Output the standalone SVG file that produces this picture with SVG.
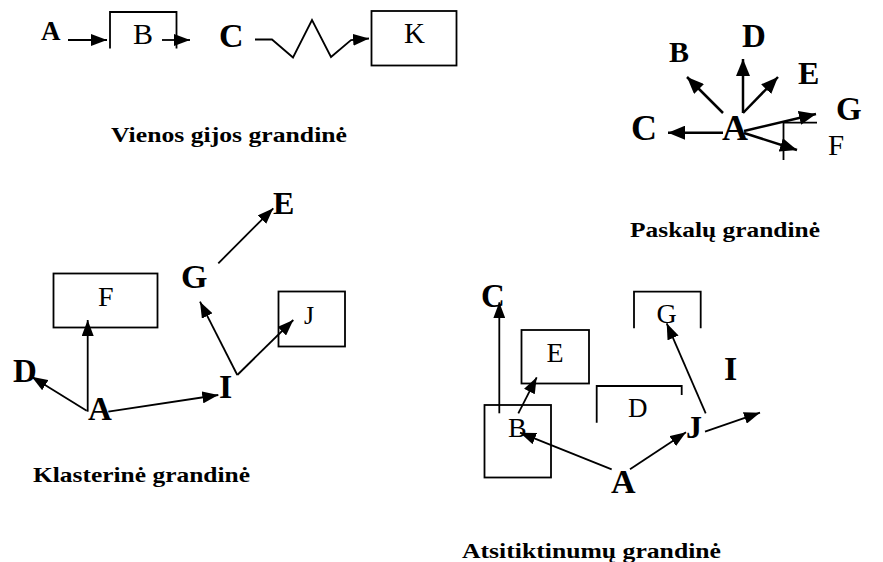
<svg xmlns="http://www.w3.org/2000/svg" width="883" height="562" viewBox="0 0 883 562">
  <defs>
    <marker id="arrow" markerUnits="userSpaceOnUse" markerWidth="16" markerHeight="12" refX="16" refY="6" orient="auto">
      <path d="M0,0 L16,6 L0,12 z" fill="#000"/>
    </marker>
    <marker id="arrow-lg" markerUnits="userSpaceOnUse" markerWidth="17" markerHeight="14" refX="17" refY="7" orient="auto">
      <path d="M0,0 L17,7 L0,14 z" fill="#000"/>
    </marker>
  </defs>
  <style>
    .bg { fill: #fff; }
    text { font-family: "Liberation Serif", "Times New Roman", serif; fill: #000; }
    .b { font-weight: bold; }
    .cap { font-weight: bold; font-size: 21px; }
    .box { fill: none; stroke: #000; stroke-width: 1.8; }
    .edge { fill: none; stroke: #000; stroke-width: 1.8; marker-end: url(#arrow); }
    .edge-lg { fill: none; stroke: #000; stroke-width: 2.5; marker-end: url(#arrow-lg); }
  </style>
  <rect class="bg" x="0" y="0" width="883" height="562"/>

  <!-- Single-thread chain -->
  <g id="chain1">
    <g id="c1-A"><text class="b" x="41" y="39.5" font-size="27">A</text></g>
    <g id="c1-B">
      <path class="box" d="M110,48.5 V12 H176.5 V48.5"/>
      <text x="133" y="43.5" font-size="30">B</text>
    </g>
    <g id="c1-C"><text class="b" x="219" y="46.5" font-size="34">C</text></g>
    <g id="c1-K">
      <rect class="box" x="371.5" y="11" width="85" height="54.5" stroke-width="2.2"/>
      <text x="404" y="42.5" font-size="29">K</text>
    </g>
    <g id="c1-edges">
      <line class="edge" x1="68" y1="40" x2="107" y2="40"/>
      <line class="edge" x1="162" y1="40" x2="190" y2="40"/>
      <path class="edge" d="M255,39.5 H272 L293,57.5 L312,20 L331,57 L351,40 L369,38.5"/>
    </g>
    <text class="cap" x="111" y="141.5" textLength="236" lengthAdjust="spacingAndGlyphs">Vienos gijos grandinė</text>
  </g>

  <!-- Fan chain -->
  <g id="chain2">
    <g id="c2-A"><text class="b" x="722" y="140" font-size="36">A</text></g>
    <g id="c2-C"><text class="b" x="631" y="140" font-size="36">C</text></g>
    <g id="c2-B"><text class="b" x="669" y="62" font-size="30">B</text></g>
    <g id="c2-D"><text class="b" x="742" y="47" font-size="33">D</text></g>
    <g id="c2-E"><text class="b" x="798" y="83.5" font-size="32">E</text></g>
    <g id="c2-G"><text class="b" x="836" y="120" font-size="33">G</text></g>
    <g id="c2-F">
      <path class="box" d="M783.5,160 V122.7 H817" stroke-width="2.2"/>
      <text x="828" y="155" font-size="29">F</text>
    </g>
    <g id="c2-edges">
      <line class="edge-lg" x1="723" y1="132.7" x2="668" y2="132.7"/>
      <line class="edge-lg" x1="723" y1="113" x2="687" y2="77"/>
      <line class="edge-lg" x1="743" y1="113" x2="743" y2="59"/>
      <line class="edge-lg" x1="743" y1="113" x2="778" y2="77"/>
      <line class="edge-lg" x1="744" y1="131" x2="816" y2="114"/>
      <line class="edge-lg" x1="744" y1="133" x2="797" y2="150"/>
    </g>
    <text class="cap" x="630" y="236.7" textLength="190" lengthAdjust="spacingAndGlyphs">Paskalų grandinė</text>
  </g>

  <!-- Cluster chain -->
  <g id="chain3">
    <g id="c3-F">
      <rect class="box" x="53.5" y="273.5" width="104" height="54"/>
      <text x="98" y="306" font-size="28">F</text>
    </g>
    <g id="c3-G"><text class="b" x="181" y="288" font-size="34">G</text></g>
    <g id="c3-E"><text class="b" x="273" y="213.5" font-size="32">E</text></g>
    <g id="c3-J">
      <rect class="box" x="278.5" y="291.5" width="66.5" height="55"/>
      <text x="304" y="324" font-size="26">J</text>
    </g>
    <g id="c3-D"><text class="b" x="13" y="381.5" font-size="33">D</text></g>
    <g id="c3-A"><text class="b" x="88" y="420" font-size="33">A</text></g>
    <g id="c3-I"><text class="b" x="219" y="398" font-size="34">I</text></g>
    <g id="c3-edges">
      <line class="edge" x1="87.7" y1="411.7" x2="87.7" y2="320"/>
      <line class="edge" x1="86.7" y1="410.7" x2="31.7" y2="376.7"/>
      <line class="edge" x1="108.3" y1="411.7" x2="218.3" y2="395"/>
      <line class="edge" x1="237.3" y1="375" x2="200" y2="301.7"/>
      <line class="edge" x1="237.3" y1="375" x2="293.3" y2="320"/>
      <line class="edge" x1="218.3" y1="263.3" x2="273.3" y2="208.3"/>
    </g>
    <text class="cap" x="33" y="481.5" textLength="217" lengthAdjust="spacingAndGlyphs">Klasterinė grandinė</text>
  </g>

  <!-- Random chain -->
  <g id="chain4">
    <g id="c4-C"><text class="b" x="481" y="306.5" font-size="33">C</text></g>
    <g id="c4-E">
      <rect class="box" x="521.5" y="330" width="67.5" height="53.5"/>
      <text x="546.5" y="361.5" font-size="28">E</text>
    </g>
    <g id="c4-B">
      <rect class="box" x="484.5" y="405" width="66.5" height="72.5"/>
      <text x="508" y="436.5" font-size="28">B</text>
    </g>
    <g id="c4-G">
      <path class="box" d="M634,328.3 V291.7 H700.7 V328.3"/>
      <text x="656.5" y="323" font-size="28">G</text>
    </g>
    <g id="c4-D">
      <path class="box" d="M596.7,422.7 V386 H681.7 V395"/>
      <text x="628" y="416.5" font-size="27">D</text>
    </g>
    <g id="c4-I"><text class="b" x="724" y="380" font-size="34">I</text></g>
    <g id="c4-J"><text class="b" x="686" y="438" font-size="32">J</text></g>
    <g id="c4-A"><text class="b" x="611" y="493" font-size="34">A</text></g>
    <g id="c4-edges">
      <line class="edge" x1="499.3" y1="413.3" x2="499.3" y2="302.3"/>
      <line class="edge" x1="518.3" y1="413.3" x2="536.7" y2="377.3"/>
      <line class="edge" x1="611.7" y1="469.3" x2="520" y2="432.7"/>
      <line class="edge" x1="630" y1="469.3" x2="686" y2="432.3"/>
      <line class="edge" x1="705.7" y1="413.3" x2="666.7" y2="323.3"/>
      <line class="edge" x1="705" y1="431.7" x2="760" y2="412.7"/>
    </g>
    <text class="cap" x="462" y="557.5" textLength="259" lengthAdjust="spacingAndGlyphs">Atsitiktinumų grandinė</text>
  </g>
</svg>
